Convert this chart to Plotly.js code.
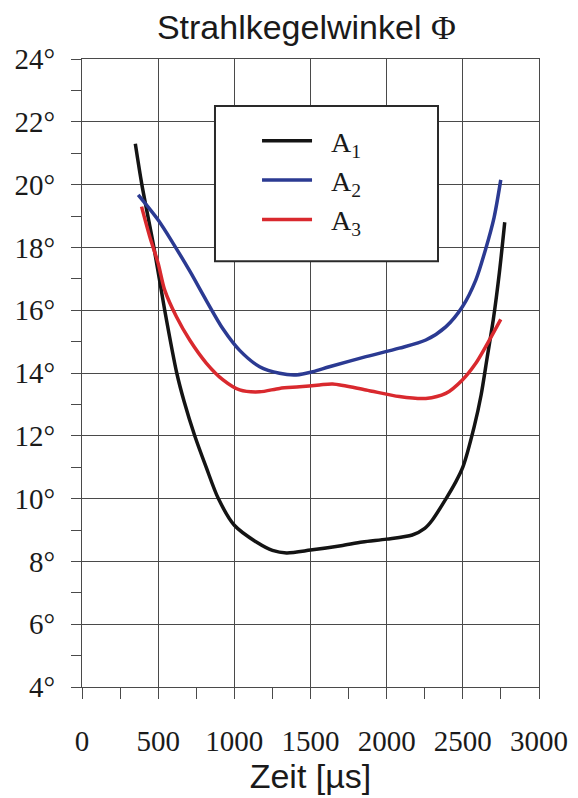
<!DOCTYPE html>
<html>
<head>
<meta charset="utf-8">
<script src="https://cdn.plot.ly/plotly-3.0.1.min.js"></script>
<style>html,body{margin:0;padding:0;background:#fff;}#chart{width:578px;height:798px;}</style>
</head>
<body>
<div id="chart"></div>
<script>
// Data
var seriesNames = ["\u00a0\u00a0A<sub>1</sub>", "\u00a0\u00a0A<sub>2</sub>", "\u00a0\u00a0A<sub>3</sub>"];
var seriesColors = ["#141414", "#2b3a92", "#d9292e"];

var a1Time = [350, 393, 472, 543, 622, 670, 740, 815, 895, 1000, 1150, 1250, 1343, 1500, 1700, 1841, 2000, 2168, 2250, 2300, 2390, 2450, 2500, 2575, 2620, 2660, 2700, 2740, 2775];
var a1Angle = [21.3, 20.0, 18.0, 16.0, 14.0, 13.1, 12.0, 11.0, 10.0, 9.15, 8.6, 8.35, 8.27, 8.36, 8.5, 8.62, 8.71, 8.84, 9.05, 9.32, 10.0, 10.5, 11.0, 12.3, 13.3, 14.5, 15.7, 17.2, 18.8];

var a2Time = [369, 500, 598, 707, 817, 926, 1035, 1166, 1297, 1406, 1515, 1624, 1864, 2083, 2257, 2388, 2497, 2585, 2650, 2705, 2749];
var a2Angle = [19.67, 18.87, 18.13, 17.25, 16.3, 15.4, 14.72, 14.2, 13.99, 13.94, 14.04, 14.2, 14.52, 14.79, 15.05, 15.47, 16.11, 16.96, 17.95, 18.95, 20.15];

var a3Time = [391, 445, 500, 543, 620, 707, 817, 926, 1035, 1166, 1297, 1428, 1559, 1646, 1864, 2083, 2257, 2388, 2497, 2585, 2650, 2749];
var a3Angle = [19.3, 18.34, 17.49, 16.64, 15.79, 15.05, 14.31, 13.78, 13.46, 13.40, 13.51, 13.56, 13.62, 13.65, 13.46, 13.25, 13.19, 13.35, 13.78, 14.31, 14.84, 15.71];

var xTickVals = [0, 500, 1000, 1500, 2000, 2500, 3000];
var xTickText = ["0", "500", "1000", "1500", "2000", "2500", "3000"];
var yTickVals = [4, 6, 8, 10, 12, 14, 16, 18, 20, 22, 24];
var yTickText = ["4°", "6°", "8°", "10°", "12°", "14°", "16°", "18°", "20°", "22°", "24°"];

var times = [a1Time, a2Time, a3Time];
var angles = [a1Angle, a2Angle, a3Angle];

var traces = times.map(function (t, i) {
  return {
    x: t, y: angles[i], name: seriesNames[i], type: "scatter", mode: "lines",
    line: {color: seriesColors[i], width: 3.5, shape: "spline", smoothing: 0.8}
  };
});

var serif = "Liberation Serif";
var sans = "Liberation Sans";
var gridCol = "#4a4a4a";

var layout = {
  width: 578, height: 798,
  margin: {l: 82, r: 39, t: 59, b: 111, pad: 0},
  paper_bgcolor: "#fff", plot_bgcolor: "#fff",
  font: {family: serif, size: 29, color: "#1a1a1a"},
  showlegend: true,
  title: {
    text: 'Strahlkegelwinkel <span style="font-family:Liberation Serif">Φ</span>',
    font: {family: sans, size: 34, color: "#1a1a1a"},
    x: 0.53, xanchor: "center", y: 0.9655, yanchor: "middle"
  },
  xaxis: {
    range: [0, 3000], tickmode: "array", tickvals: xTickVals, ticktext: xTickText,
    ticks: "outside", ticklen: 11, tickwidth: 1, tickcolor: gridCol,
    minor: {dtick: 250, tick0: 0, ticks: "outside", ticklen: 11, tickwidth: 1, tickcolor: gridCol, showgrid: false},
    showgrid: true, gridcolor: gridCol, gridwidth: 1,
    showline: true, linecolor: gridCol, linewidth: 1, mirror: true,
    zeroline: false,
    ticklabelstandoff: 17,
    tickfont: {family: serif, size: 29, color: "#1a1a1a"},
    title: {text: "Zeit [µs]", font: {family: sans, size: 34, color: "#1a1a1a"}, standoff: 6},
    fixedrange: true
  },
  yaxis: {
    range: [4, 24], tickmode: "array", tickvals: yTickVals, ticktext: yTickText,
    ticks: "outside", ticklen: 10, tickwidth: 1, tickcolor: gridCol,
    minor: {dtick: 1, tick0: 0, ticks: "outside", ticklen: 10, tickwidth: 1, tickcolor: gridCol, showgrid: false},
    showgrid: true, gridcolor: gridCol, gridwidth: 1,
    showline: true, linecolor: gridCol, linewidth: 1, mirror: true,
    zeroline: false,
    ticklabelstandoff: 10,
    tickfont: {family: serif, size: 29, color: "#1a1a1a"},
    fixedrange: true
  },
  legend: {
    x: 0.383, y: 0.9092, xanchor: "left", yanchor: "top",
    bgcolor: "rgba(0,0,0,0)", borderwidth: 0,
    itemwidth: 50,
    font: {family: serif, size: 28, color: "#1a1a1a"}
  },
  shapes: [{
    type: "rect", xref: "paper", yref: "paper",
    x0: 0.291, x1: 0.779, y0: 0.678, y1: 0.925,
    fillcolor: "#fff", line: {color: "#2a2a2a", width: 2}, layer: "above"
  }]
};

Plotly.newPlot("chart", traces, layout, {displayModeBar: false, staticPlot: true});
</script>
</body>
</html>
